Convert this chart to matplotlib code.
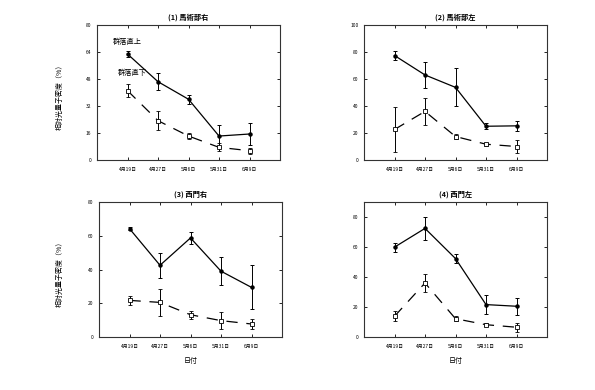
import matplotlib
matplotlib.use("Agg")
import matplotlib.pyplot as plt

plt.rcParams["font.family"] = ["Noto Sans CJK JP", "DejaVu Sans"]

dates = ["4月19日", "4月27日", "5月6日", "5月31日", "6月9日"]
titles = ["(1) 馬術部右", "(2) 馬術部左", "(3) 西門右", "(4) 西門左"]

# 群落直上 (above canopy) mean / error
above_1 = [62.8, 46.4, 36.0, 14.2, 15.4]
above_1_err = [1.5, 5.0, 2.7, 6.7, 6.8]
above_2 = [77.4, 63.0, 53.8, 25.0, 25.3]
above_2_err = [3.4, 9.4, 14.0, 2.2, 3.6]
above_3 = [64.2, 42.5, 58.7, 39.0, 29.4]
above_3_err = [1.0, 7.4, 3.8, 8.3, 13.0]
above_4 = [59.9, 72.4, 52.3, 21.6, 20.5]
above_4_err = [3.0, 7.7, 3.1, 6.5, 5.8]

# 群落直下 (below canopy) mean / error
below_1 = [41.1, 23.3, 14.2, 7.5, 5.5]
below_1_err = [4.0, 5.6, 2.0, 2.3, 1.7]
below_2 = [22.6, 36.0, 17.4, 11.7, 10.0]
below_2_err = [16.5, 10.0, 1.5, 1.2, 5.0]
below_3 = [21.7, 20.5, 13.2, 9.7, 7.7]
below_3_err = [2.6, 8.0, 2.5, 4.9, 2.8]
below_4 = [13.8, 36.0, 12.2, 8.2, 6.5]
below_4_err = [3.3, 6.3, 1.8, 1.0, 3.0]

y_limits = [80, 100, 80, 90]
y_ticks = [[0, 16, 32, 48, 64, 80], [0, 20, 40, 60, 80, 100],
           [0, 20, 40, 60, 80], [0, 20, 40, 60, 80]]

above = [(above_1, above_1_err), (above_2, above_2_err),
         (above_3, above_3_err), (above_4, above_4_err)]
below = [(below_1, below_1_err), (below_2, below_2_err),
         (below_3, below_3_err), (below_4, below_4_err)]

W, H = 595, 390
fig = plt.figure(figsize=(W / 100, H / 100), dpi=100)

# axes boxes in pixels: left, top, right, bottom
boxes = [(97, 25, 280, 160), (364, 25, 547, 160),
         (99, 202, 282, 337), (364, 202, 547, 337)]

x = list(range(1, len(dates) + 1))

for i, (l, t, r, b) in enumerate(boxes):
    ax = fig.add_axes([l / W, 1 - b / H, (r - l) / W, (b - t) / H])
    ya, ea = above[i]
    yb, eb = below[i]
    ax.errorbar(x, ya, yerr=ea, color="black", lw=0.9, marker="o",
                ms=2.2, capsize=1.5, elinewidth=0.7, capthick=0.7)
    ax.errorbar(x, yb, yerr=eb, color="black", lw=0.9, marker="s",
                ms=2.8, mfc="white", mec="black", mew=0.6,
                capsize=1.5, elinewidth=0.7, capthick=0.7,
                linestyle=(0, (9, 7)))
    ax.set_xlim(0, 6)
    ax.set_ylim(0, y_limits[i])
    ax.set_xticks(x)
    ax.set_xticklabels(dates)
    ax.set_yticks(y_ticks[i])
    ax.tick_params(axis="both", direction="in", length=2.5, width=0.6,
                   top=True, right=True, labelsize=3.5, pad=4)
    ax.tick_params(axis="x", pad=5)
    for s in ax.spines.values():
        s.set_linewidth(0.8)
        s.set_color("#333333")
    ax.set_title(titles[i], fontsize=5.2, fontweight="bold", pad=4)
    if i in (2, 3):
        ax.set_xlabel("日付", fontsize=5, labelpad=6)

# annotation in first panel
fig.axes[0].text(1.0, 70, "群落直上", fontsize=5.2, ha="center", va="center")
fig.axes[0].text(1.15, 51.5, "群落直下", fontsize=5.2, ha="center", va="center")

fig.text(60 / W, 1 - 95 / H, "相対光量子密度（%）", rotation=90,
         fontsize=5, ha="center", va="center")
fig.text(60 / W, 1 - 272 / H, "相対光量子密度（%）", rotation=90,
         fontsize=5, ha="center", va="center")

fig.savefig("out.png", dpi=100)
